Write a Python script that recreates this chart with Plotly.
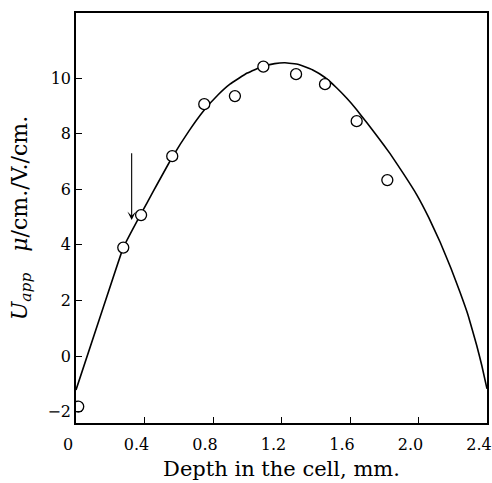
import plotly.graph_objects as go

# Measured data points (open circles)
depth_pts = [0.013, 0.276, 0.380, 0.562, 0.749, 0.928, 1.094, 1.285, 1.454, 1.639, 1.818]
u_pts = [-1.82, 3.90, 5.07, 7.19, 9.06, 9.35, 10.41, 10.14, 9.78, 8.45, 6.33]

# Drawn curve
depth_curve = [0.0, 0.16, 0.276, 0.330, 0.380, 0.451, 0.562, 0.660, 0.749, 0.830, 0.899,
               1.000, 1.094, 1.160, 1.220, 1.300, 1.380, 1.454, 1.520, 1.580, 1.639,
               1.700, 1.760, 1.834, 1.910, 1.990, 2.060, 2.126, 2.190, 2.242, 2.290,
               2.340, 2.370, 2.400]
u_curve = [-1.22, 1.76, 3.90, 4.55, 5.12, 5.92, 7.15, 8.10, 8.85, 9.40, 9.78,
           10.18, 10.43, 10.52, 10.55, 10.49, 10.30, 10.02, 9.66, 9.28, 8.86,
           8.38, 7.90, 7.28, 6.58, 5.80, 4.98, 4.10, 3.15, 2.30, 1.46,
           0.38, -0.35, -1.18]

# Arrow marking a depth
arrow_depth = 0.325
arrow_tip = 4.89
arrow_tail = 7.35

x_ticks = [0, 0.4, 0.8, 1.2, 1.6, 2.0, 2.4]
x_ticktext = ["0", "0.4", "0.8", "1.2", "1.6", "2.0", "2.4"]
y_ticks = [-2, 0, 2, 4, 6, 8, 10]
y_ticktext = ["\u22122", "0", "2", "4", "6", "8", "10"]

fig = go.Figure()
fig.add_trace(go.Scatter(
    x=depth_curve, y=u_curve, mode="lines",
    line=dict(color="black", width=1.6, shape="spline", smoothing=0.3),
    hoverinfo="skip", showlegend=False))
fig.add_trace(go.Scatter(
    x=depth_pts, y=u_pts, mode="markers",
    marker=dict(symbol="circle", size=11, color="white",
                line=dict(color="black", width=1.3)),
    showlegend=False))

fig.add_annotation(
    x=arrow_depth, y=arrow_tip, ax=arrow_depth, ay=arrow_tail,
    xref="x", yref="y", axref="x", ayref="y",
    text="", showarrow=True, arrowhead=3, arrowsize=1.3, arrowwidth=1.1,
    arrowcolor="black")

serif_tick = dict(family="DejaVu Serif", size=16, color="black")
serif_title = dict(family="DejaVu Serif", size=21, color="black")

fig.update_xaxes(
    range=[0, 2.4], tickvals=x_ticks, ticktext=x_ticktext,
    ticks="inside", ticklen=6, tickwidth=1.2, tickcolor="black",
    showline=True, linecolor="black", linewidth=1.6, mirror=True,
    showgrid=False, zeroline=False, tickfont=serif_tick,
    ticklabelshift=-8, ticklabelstandoff=6,
    title=dict(text="Depth in the cell, mm.", font=serif_title, standoff=8))
fig.update_yaxes(
    range=[-2.41, 12.34], tickvals=y_ticks, ticktext=y_ticktext,
    ticks="inside", ticklen=6, tickwidth=1.2, tickcolor="black",
    showline=True, linecolor="black", linewidth=1.6, mirror=True,
    showgrid=False, zeroline=False, tickfont=serif_tick,
    title=dict(text="<i>U</i><sub><i>app</i></sub>\u00a0\u00a0\u00a0<i>\u03bc</i>/cm./V./cm.",
               font=dict(family="DejaVu Serif", size=22, color="black"), standoff=14))

fig.update_layout(
    width=492, height=483,
    margin=dict(l=76, r=5, t=13, b=60, autoexpand=False),
    paper_bgcolor="white", plot_bgcolor="white",
    showlegend=False)

fig.write_html("out.html")
